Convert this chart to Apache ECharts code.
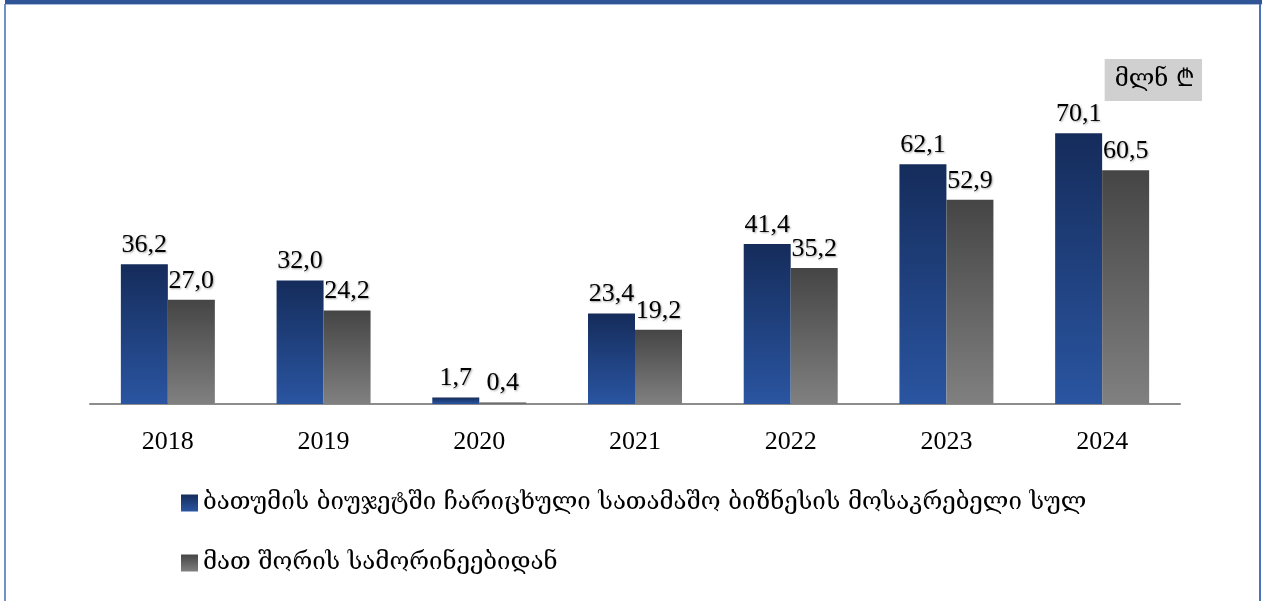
<!DOCTYPE html>
<html>
<head>
<meta charset="utf-8">
<script src="https://cdn.jsdelivr.net/npm/echarts@6/dist/echarts.min.js"></script>
<style>
  body { margin: 0; background: #fff; }
  #main { width: 1266px; height: 601px; }
</style>
</head>
<body>
<div id="main"></div>
<script>
  // years and values, mln GEL
  var years = ['2018', '2019', '2020', '2021', '2022', '2023', '2024'];
  var totalFee = [36.2, 32.0, 1.7, 23.4, 41.4, 62.1, 70.1];
  var fromCasinos = [27.0, 24.2, 0.4, 19.2, 35.2, 52.9, 60.5];
  var seriesNames = [
    'ბათუმის ბიუჯეტში ჩარიცხული სათამაშო ბიზნესის მოსაკრებელი სულ',
    'მათ შორის სამორინეებიდან'
  ];
  var unitText = 'მლნ ₾';

  var chart = echarts.init(document.getElementById('main'));

  function grad(top, bottom) {
    return new echarts.graphic.LinearGradient(0, 0, 0, 1, [
      { offset: 0, color: top },
      { offset: 1, color: bottom }
    ]);
  }

  var labelStyle = {
    show: true,
    position: 'top',
    distance: 6,
    fontFamily: 'Liberation Serif',
    fontSize: 26,
    color: '#000',
    textShadowColor: 'rgba(0,0,0,0.35)',
    textShadowBlur: 2,
    textShadowOffsetX: 1,
    textShadowOffsetY: 1,
    formatter: function (p) {
      return p.value.toFixed(1).replace('.', ',');
    }
  };

  chart.setOption({
    animation: false,
    grid: { left: 90, right: 86, top: 95, bottom: 197 },
    title: {
      text: unitText,
      right: 64,
      top: 59,
      backgroundColor: '#D0D0D0',
      padding: [9, 7, 9, 10],
      textStyle: { fontFamily: 'DejaVu Serif', fontSize: 24, fontWeight: 'normal', color: '#000' }
    },
    legend: {
      orient: 'vertical',
      left: 176,
      top: 486,
      itemWidth: 17,
      itemHeight: 17,
      itemGap: 36,
      icon: 'rect',
      textStyle: { fontFamily: 'DejaVu Serif', fontSize: 24, color: '#000' },
      data: seriesNames
    },
    xAxis: {
      type: 'category',
      data: years,
      axisLine: { lineStyle: { color: '#8C8C8C', width: 2 } },
      axisTick: { alignWithLabel: true, length: 7, lineStyle: { color: '#8C8C8C', width: 2 } },
      axisLabel: { color: '#000', fontFamily: 'Liberation Serif', fontSize: 26, margin: 25 }
    },
    yAxis: {
      type: 'value',
      min: 0,
      max: 80,
      show: false,
      splitLine: { show: false }
    },
    series: [
      {
        name: seriesNames[0],
        type: 'bar',
        data: totalFee,
        barWidth: 47,
        barGap: '0%',
        itemStyle: { color: grad('#152C5B', '#2A55A1') },
        label: labelStyle
      },
      {
        name: seriesNames[1],
        type: 'bar',
        data: fromCasinos,
        barWidth: 47,
        itemStyle: { color: grad('#454545', '#808080') },
        label: labelStyle
      }
    ],
    graphic: [
      { type: 'rect', shape: { x: 5, y: 0, width: 1257, height: 4 }, style: { fill: '#2F5597' } },
      { type: 'rect', shape: { x: 5, y: 4, width: 1257, height: 1 }, style: { fill: '#A9BCDD' } },
      { type: 'rect', shape: { x: 4, y: 4, width: 2, height: 597 }, style: { fill: '#7391C7' } },
      { type: 'rect', shape: { x: 1259, y: 4, width: 2, height: 597 }, style: { fill: '#4A72C0' } }
    ]
  });
</script>
</body>
</html>
